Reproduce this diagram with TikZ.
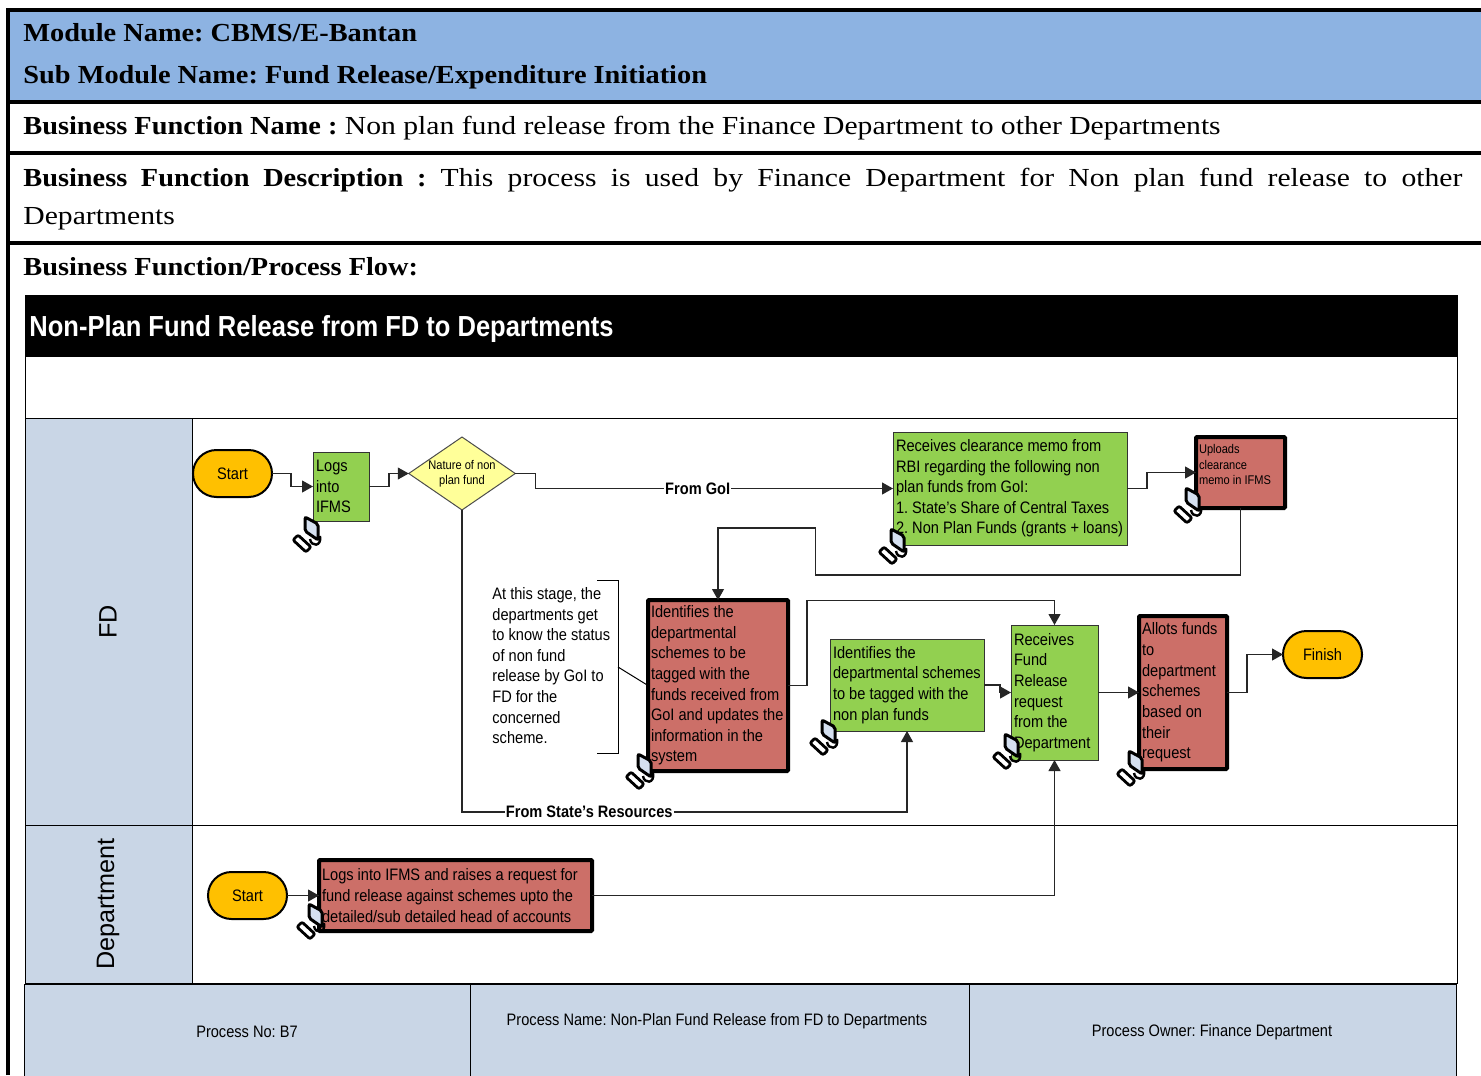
\documentclass[tikz,border=0pt]{standalone}
\usepackage{fontspec}
\usetikzlibrary{positioning, arrows.meta, shapes.geometric, shapes.misc}
\newfontfamily\flowfont[FakeStretch=0.88]{Liberation Sans}
\newfontfamily\lanefont{Liberation Sans}
\newfontfamily\docfont[FakeStretch=1.14, BoldFeatures={FakeStretch=1.09}]{Liberation Serif}
\definecolor{headblue}{HTML}{8DB3E2}
\definecolor{laneblue}{HTML}{C9D6E6}
\definecolor{stepgreen}{HTML}{92D050}
\definecolor{stepred}{HTML}{CC6F68}
\definecolor{termorange}{HTML}{FFC000}
\definecolor{decyellow}{HTML}{FFFF99}
\definecolor{screenblue}{HTML}{D5E0F0}
\tikzset{
    x=0.5pt, y=-0.5pt,
    doctext/.style={anchor=base west, inner sep=0pt, font=\docfont\fontsize{13}{19}\selectfont},
    docline/.style={line width=1.6pt},
    flowtext/.style={font=\flowfont\fontsize{8.3}{10.3}\selectfont},
    lanecell/.style={draw=black, line width=0.5pt, fill=laneblue, inner sep=0pt, outer sep=0pt, flowtext},
    lanetext/.style={rotate=90, inner sep=0pt, font=\lanefont\fontsize{12.6}{14}\selectfont},
    termnode/.style={rounded rectangle, draw=black, line width=1pt, fill=termorange, minimum width=39.5pt, minimum height=23.5pt, inner sep=0pt, outer sep=0pt, flowtext},
    greenstep/.style={rectangle, draw=black!80, line width=0.5pt, fill=stepgreen, inner xsep=1.5pt, inner ysep=0pt, outer sep=0pt, align=flush left, flowtext},
    redstep/.style={rectangle, draw=black, line width=2pt, fill=stepred, rounded corners=0.5pt, inner xsep=1.5pt, inner ysep=0pt, outer sep=0pt, align=flush left, flowtext},
    decnode/.style={diamond, draw=black!70, line width=0.5pt, fill=decyellow, aspect=1.46, minimum width=50pt, minimum height=34pt, inner sep=0pt, outer sep=0pt, align=center, font=\flowfont\fontsize{6.3}{7.6}\selectfont},
    flow/.style={draw=black!85, line width=0.55pt, -{Triangle[length=5.5pt,width=6pt]}},
    elbow/.style={to path={-- ++(#1,0) |- (\tikztotarget)}},
    flowlabel/.style={fill=white, inner xsep=0.5pt, inner ysep=0pt, font=\flowfont\bfseries\fontsize{8.3}{10.3}\selectfont},
    pcicon/.pic={
        \draw[line width=1.4pt, fill=white, rounded corners=1pt] (-15,7) -- (-10,2) -- (3,14) -- (-2,19) -- cycle;
        \draw[line width=1.2pt] (2,6) .. controls (3,14) and (14,14) .. (12,3);
        \draw[line width=1.5pt, fill=screenblue, rounded corners=1pt] (-3,-16) -- (10,-9) -- (10,7) -- (-3,-2) -- cycle;
    },
}

\begin{document}
\frenchspacing
\begin{tikzpicture}
            \useasboundingbox (0,0) rectangle (1481,1075);

            % page frame and headings
            \fill[headblue] (8,10) rectangle (1481,102);
            \draw[docline] (8,1075) -- (8,10) -- (1481,10);
            \draw[docline] (8,102) -- (1481,102);
            \draw[docline] (8,153) -- (1481,153);
            \draw[docline] (8,243) -- (1481,243);
            \node[doctext] (MODULE) at (23,42) {\bfseries Module Name: CBMS/E-Bantan};
            \node[doctext] (SUBMODULE) at (23,84) {\bfseries Sub Module Name: Fund Release/Expenditure Initiation};
            \node[doctext] (FUNCNAME) at (23,135) {\textbf{Business Function Name :} Non plan fund release from the Finance Department to other Departments};
            \node[doctext, text width=719.5pt, align=justify, anchor=north west] (FUNCDESC) at (23,168) {\textbf{Business Function Description :} This process is used by Finance Department for Non plan fund release to other\linebreak Departments};
            \node[doctext] (FLOWHEAD) at (23,275) {\bfseries Business Function/Process Flow:};

            % swim lanes
            \node[rectangle, fill=black, minimum width=716pt, minimum height=31pt, inner sep=0pt, outer sep=0pt] (TITLEBAR) at (741,326) {};
            \node[anchor=base west, inner sep=0pt, text=white, font=\flowfont\bfseries\fontsize{14.5}{18}\selectfont] (TITLE) at (29,336) {Non-Plan Fund Release from FD to Departments};
            \node[rectangle, draw=black, line width=0.5pt, minimum width=716pt, minimum height=344pt, inner sep=0pt, outer sep=0pt] (DIAGRAM) at (741,639) {};
            \draw[line width=0.5pt] (25,418) -- (1457,418);
            \draw[line width=0.5pt] (25,825) -- (1457,825);
            \node[lanecell, minimum width=83.5pt, minimum height=203.5pt] (LANEFD) at (108.5,621.5) {};
            \node[lanecell, minimum width=83.5pt, minimum height=79pt] (LANEDEPT) at (108.5,904) {};
            \node[lanetext] (FDTEXT) at (108,622) {FD};
            \node[lanetext] (DEPTTEXT) at (108,904) {Department};

            % process steps
            \node[termnode] (STARTFD) at (232.5,473.5) {Start};
            \node[greenstep, minimum width=28pt, minimum height=34.5pt, text width=25pt] (LOGIN) at (341,486.5) {Logs\\into\\IFMS};
            \node[decnode] (NATURE) at (462,473.5) {Nature of non\\plan fund};
            \node[greenstep, minimum width=117pt, minimum height=56.5pt, text width=114pt] (RECEIVEMEMO) at (1010,488.5) {Receives clearance memo from\\RBI regarding the following non\\plan funds from GoI:\\1. State’s Share of Central Taxes\\2. Non Plan Funds (grants + loans)};
            \node[redstep, minimum width=44.5pt, minimum height=35.5pt, text width=41.5pt, font=\flowfont\fontsize{6.3}{7.7}\selectfont] (UPLOAD) at (1240.5,472.5) {Uploads\\clearance\\memo in IFMS\\\mbox{}};
            \node[redstep, minimum width=70pt, minimum height=85.5pt, text width=67pt] (IDENTIFY) at (718,685.5) {Identifies the\\departmental\\schemes to be\\tagged with the\\funds received from\\GoI and updates the\\information in the\\system};
            \node[greenstep, minimum width=77pt, minimum height=46pt, text width=74pt] (TAGGED) at (907,685) {Identifies the\\departmental schemes\\to be tagged with the\\non plan funds};
            \node[greenstep, minimum width=43.5pt, minimum height=67.5pt, text width=40.5pt] (RELEASEREQ) at (1054.5,692.5) {Receives\\Fund\\Release\\request\\from the\\Department};
            \node[redstep, minimum width=44pt, minimum height=76.5pt, text width=41pt] (ALLOT) at (1183,692.5) {Allots funds\\to\\department\\schemes\\based on\\their\\request};
            \node[termnode] (FINISH) at (1322.5,654.5) {Finish};
            \node[termnode] (STARTDEPT) at (247.5,895.5) {Start};
            \node[redstep, minimum width=136.5pt, minimum height=35.5pt, text width=133.5pt] (RAISE) at (455.5,895.5) {Logs into IFMS and raises a request for\\fund release against schemes upto the\\detailed/sub detailed head of accounts};

            % note beside the tagging step
            \node[flowtext, anchor=north west, align=left, inner sep=0pt] (NOTE) at (492,587) {At this stage, the\\departments get\\to know the status\\of non fund\\release by GoI to\\FD for the\\concerned\\scheme.};
            \coordinate (NOTETOP) at (597,580);
            \coordinate (NOTEBOTTOM) at (597,753);
            \coordinate (NOTEMID) at (618,667);
            \draw[line width=0.5pt] (NOTETOP) -| (NOTEMID) |- (NOTEBOTTOM);
            \draw[line width=0.5pt] (NOTEMID) -- (IDENTIFY.west);

            % connectors
            \path[every edge/.style={flow}] (STARTFD.east) edge[elbow=19] (LOGIN.west)
            (LOGIN.east) edge[elbow=20] (NATURE.west)
            (RECEIVEMEMO.east) edge[elbow=20] (UPLOAD.west)
            (TAGGED.east) edge[elbow=16] (RELEASEREQ.west)
            (RELEASEREQ.east) edge (ALLOT.west)
            (ALLOT.east) edge[elbow=20] (FINISH.west)
            (STARTDEPT.east) edge (RAISE.west);
            \draw[flow] (NATURE.east) -- ++(20,0) |- node[pos=0.727, flowlabel]{From GoI} (RECEIVEMEMO.west);
            \draw[flow] (NATURE.south) -- ++(0,302) -| node[pos=0.143, flowlabel]{From State’s Resources} (TAGGED.south);
            \draw[flow] (UPLOAD.south) -- ++(0,67) -- ++(-425,0) -- ++(0,-47) -| (IDENTIFY.north);
            \draw[flow] (IDENTIFY.east) -- ++(19,0) |- ++(100,-85) -| (RELEASEREQ.north);
            \draw[flow] (RAISE.east) -| (RELEASEREQ.south);

            % computer icons
            \pic (ICONLOGIN) at (308,533) {pcicon};
            \pic (ICONMEMO) at (894,545) {pcicon};
            \pic (ICONUPLOAD) at (1189,504) {pcicon};
            \pic (ICONIDENTIFY) at (641,770) {pcicon};
            \pic (ICONTAGGED) at (825,736) {pcicon};
            \pic (ICONRELEASE) at (1008,750) {pcicon};
            \pic (ICONALLOT) at (1132,767) {pcicon};
            \pic (ICONRAISE) at (312,920) {pcicon};

            % process footer
            \node[lanecell, minimum width=223pt, minimum height=46pt] (PROCNO) at (247.5,1030) {};
            \node[lanecell, minimum width=249.5pt, minimum height=46pt] (PROCNAME) at (719.75,1030) {};
            \node[lanecell, minimum width=243.5pt, minimum height=46pt] (PROCOWNER) at (1212.75,1030) {};
            \node[flowtext, inner sep=0pt] (PROCNOTEXT) at (247,1032) {Process No: B7};
            \node[flowtext, inner sep=0pt] (PROCNAMETEXT) at (717,1021) {Process Name: Non-Plan Fund Release from FD to Departments};
            \node[flowtext, inner sep=0pt] (PROCOWNERTEXT) at (1212,1032) {Process Owner: Finance Department};
\end{tikzpicture}
\end{document}
